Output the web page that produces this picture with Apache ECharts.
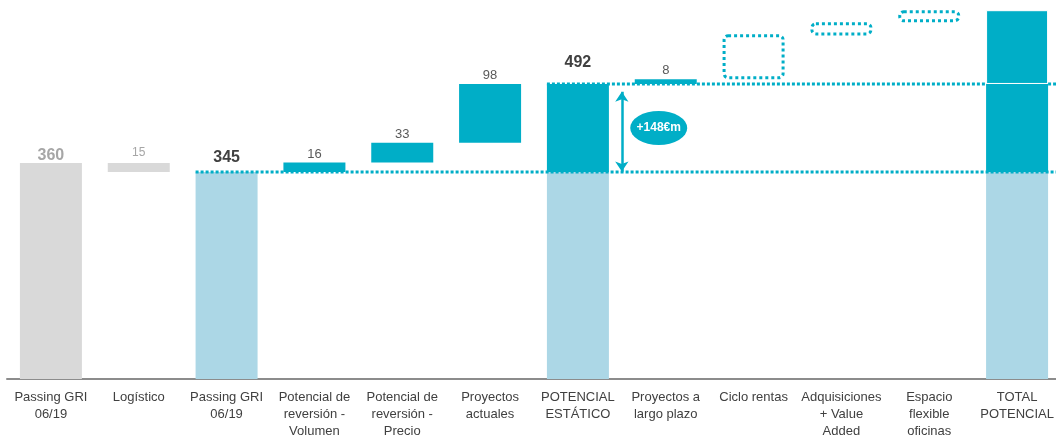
<!DOCTYPE html>
<html>
<head>
<meta charset="utf-8">
<script src="https://cdn.jsdelivr.net/npm/echarts@6/dist/echarts.min.js"></script>
<style>
  html, body { margin: 0; padding: 0; background: #fff; }
  #chart { width: 1056px; height: 436px; }
</style>
</head>
<body>
<div id="chart"></div>
<script>
// categorías del eje X
const categories = [
  'Passing GRI\n06/19', 'Logístico', 'Passing GRI\n06/19',
  'Potencial de\nreversión -\nVolumen', 'Potencial de\nreversión -\nPrecio',
  'Proyectos\nactuales', 'POTENCIAL\nESTÁTICO', 'Proyectos a\nlargo plazo',
  'Ciclo rentas', 'Adquisiciones\n+ Value\nAdded', 'Espacio\nflexible\noficinas',
  'TOTAL\nPOTENCIAL'
]

// cascada: base invisible + tramos
const baseValues  = [0, 345, 0, 345, 361, 394, 0, 492, 500, 573, 595, 0]
const mainValues  = [360, 15, 345, 16, 33, 98, 345, 8, 75, 22, 20, 345]
const upperValues = [null, null, null, null, null, null, 147, null, null, null, null, 147]
const topValues   = [null, null, null, null, null, null, null, null, null, null, null, 123]
const barKinds    = ['grey', 'grey', 'base', 'step', 'step', 'step', 'base', 'step', 'dotted', 'dotted', 'dotted', 'base']
const mainLabels  = ['360', '15', '345', '16', '33', '98', '', '8', '', '', '', '']
const upperLabels = ['', '', '', '', '', '', '492', '', '', '', '', '']

// líneas de referencia (nivel, categoría de inicio)
const refLevels = [345, 492]
const refStartIdx = [2, 6]
const deltaText = '+148€m'

const TEAL = '#00aec7'
const LIGHT = '#acd7e6'
const GREY = '#d9d9d9'
const FONT = 'Liberation Sans, Arial, sans-serif'

const gridLeft = 7
const gridWidth = 1054
const barWidth = 62
const nCat = categories.length
const catWidth = gridWidth / nCat
const halfBar = (barWidth / 2) / catWidth

const kindStyle = {
  grey: { color: GREY },
  base: { color: LIGHT },
  step: { color: TEAL },
  dotted: { color: 'rgba(0,0,0,0)', borderColor: TEAL, borderWidth: 3, borderType: [3, 3], borderRadius: 4 }
}

const labelStyle = (txt) => {
  if (txt === '360') return { color: '#a6a6a6', fontSize: 16, fontWeight: 'bold', distance: 0 }
  if (txt === '15') return { color: '#a6a6a6', fontSize: 12, distance: 4 }
  if (txt === '345') return { color: '#404040', fontSize: 16, fontWeight: 'bold', distance: 7 }
  if (txt === '492') return { color: '#404040', fontSize: 16, fontWeight: 'bold', distance: 13 }
  return { color: '#595959', fontSize: 13, distance: 2 }
}

const withLabel = (txt) => txt
  ? { show: true, position: 'top', fontFamily: FONT, formatter: txt, ...labelStyle(txt) }
  : { show: false }

const lev0 = refLevels[0], lev1 = refLevels[1]

// línea punteada: se corta sobre la barra TOTAL en el nivel superior
const refLineData = (k) => {
  const start = refStartIdx[k] + 0.5 - halfBar
  if (k === 0) return [[start, refLevels[k]], [nCat, refLevels[k]]]
  return [
    [start, refLevels[k]], [nCat - 0.5 - halfBar, refLevels[k]], [null, null],
    [nCat - 0.5 + halfBar, refLevels[k]], [nCat, refLevels[k]]
  ]
}

const chart = echarts.init(document.getElementById('chart'))

const option = {
  animation: false,
  grid: { left: gridLeft, top: 0, width: gridWidth, bottom: 57, outerBoundsMode: 'none' },
  xAxis: [
    {
      type: 'category',
      data: categories,
      axisTick: { show: false },
      axisLine: { lineStyle: { color: '#8c8c8c', width: 2 } },
      axisLabel: {
        interval: 0, color: '#404040', fontSize: 13, fontFamily: FONT,
        lineHeight: 17, margin: 10
      }
    },
    { type: 'value', min: 0, max: nCat, show: false }
  ],
  yAxis: { type: 'value', min: 0, max: 632, show: false },
  series: [
    {
      type: 'bar', stack: 'w', barWidth: barWidth, silent: true,
      itemStyle: { color: 'rgba(0,0,0,0)' },
      data: baseValues
    },
    {
      type: 'bar', stack: 'w', barWidth: barWidth,
      data: mainValues.map((v, i) => ({
        value: v,
        itemStyle: kindStyle[barKinds[i]],
        label: withLabel(mainLabels[i])
      }))
    },
    {
      type: 'bar', stack: 'w', barWidth: barWidth,
      itemStyle: { color: TEAL },
      data: upperValues.map((v, i) => ({ value: v, label: withLabel(upperLabels[i]) }))
    },
    {
      type: 'bar', stack: 'w', barWidth: barWidth,
      itemStyle: { color: TEAL, borderColor: '#fff', borderWidth: 1 },
      data: topValues
    },
    // líneas punteadas de nivel
    ...refLevels.map((lev, k) => ({
      type: 'line', xAxisIndex: 1, z: 5, symbol: 'none', silent: true,
      connectNulls: false,
      lineStyle: { color: TEAL, width: 3, type: [3, 2] },
      data: refLineData(k)
    })),
    // flecha doble + elipse con el delta
    {
      type: 'scatter', xAxisIndex: 1, z: 6, silent: true,
      symbol: 'circle', symbolSize: [57, 34],
      itemStyle: { color: TEAL, opacity: 1 },
      label: {
        show: true, position: 'inside', formatter: deltaText,
        color: '#fff', fontWeight: 'bold', fontSize: 12, fontFamily: FONT
      },
      data: [[7.42, (lev0 + lev1) / 2]],
      markLine: {
        silent: true, symbol: ['arrow', 'arrow'], symbolSize: [10, 10],
        label: { show: false },
        lineStyle: { color: TEAL, width: 2.5, type: 'solid' },
        data: [[{ coord: [7, lev0 + 1] }, { coord: [7, lev1 - 13] }]]
      }
    }
  ]
}

chart.setOption(option)
</script>
</body>
</html>
